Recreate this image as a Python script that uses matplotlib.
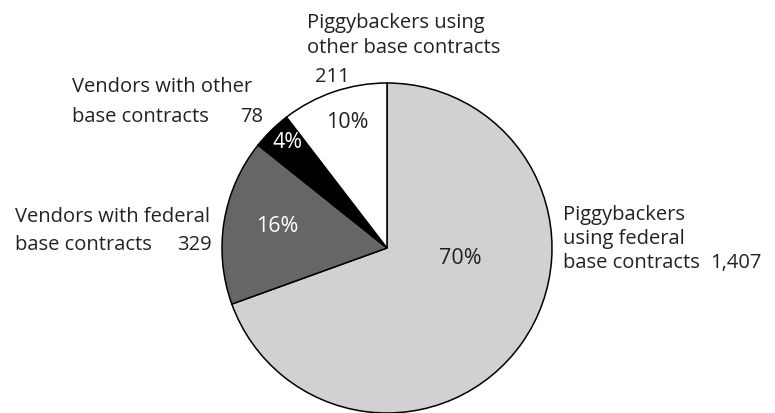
import matplotlib
matplotlib.use("Agg")
import matplotlib.pyplot as plt

# data
categories = ["Piggybackers using federal base contracts",
              "Vendors with federal base contracts",
              "Vendors with other base contracts",
              "Piggybackers using other base contracts"]
counts = [1407, 329, 78, 211]
pct_labels = ["70%", "16%", "4%", "10%"]
count_labels = ["1,407", "329", "78", "211"]
colors = ["#d1d1d1", "#666666", "#000000", "#ffffff"]
pct_colors = ["#222222", "#ffffff", "#ffffff", "#222222"]

W, H = 775, 413
plt.rcParams['font.family'] = ['Open Sans', 'DejaVu Sans']
FS = 14.5
TXT = "#222222"

fig = plt.figure(figsize=(W / 100, H / 100), dpi=100)
ax = fig.add_axes([0, 0, 1, 1])

def py(y):
    # pixel row (from top) -> data y
    return H - y

ax.pie(counts, colors=colors, startangle=90, counterclock=False,
       center=(387, py(248)), radius=165,
       wedgeprops=dict(edgecolor="black", linewidth=1.1))
ax.set_xlim(0, W)
ax.set_ylim(0, H)
ax.set_aspect("equal")
ax.axis("off")

# percentage labels inside the slices
pct_pos = [(460, 258), (277, 227), (288, 142), (347, 123)]
for (x, y), lab, c in zip(pct_pos, pct_labels, pct_colors):
    ax.text(x, py(y), lab, ha="center", va="center", fontsize=15.5, color=c)

def label(x, y, lines, step):
    for i, line in enumerate(lines):
        ax.text(x, py(y + i * step), line, ha="left", va="baseline",
                fontsize=FS, color=TXT)

# outer labels
label(307, 28, ["Piggybackers using", "other base contracts"], 25)
ax.text(315, py(82), count_labels[3], ha="left", va="baseline", fontsize=FS, color=TXT)

label(72, 92, ["Vendors with other", "base contracts"], 30)
ax.text(240, py(122), count_labels[2], ha="left", va="baseline", fontsize=FS, color=TXT)

label(15, 222, ["Vendors with federal", "base contracts"], 28)
ax.text(177, py(250), count_labels[1], ha="left", va="baseline", fontsize=FS, color=TXT)

label(563, 220, ["Piggybackers", "using federal", "base contracts"], 24)
ax.text(762, py(268), count_labels[0], ha="right", va="baseline", fontsize=FS, color=TXT)

fig.savefig("out.png", dpi=100)
